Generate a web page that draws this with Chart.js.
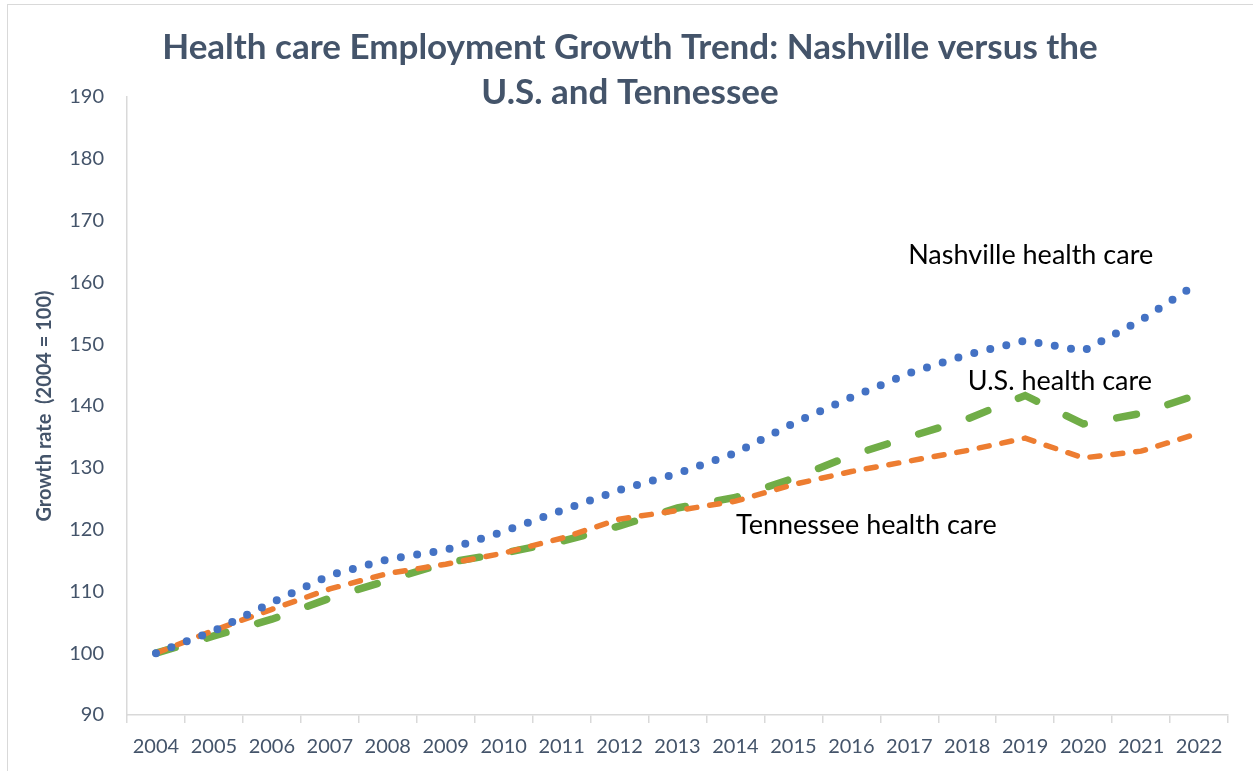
<!DOCTYPE html>
<html>
<head>
<meta charset="utf-8">
<script src="https://cdn.jsdelivr.net/npm/chart.js@4.4.0/dist/chart.umd.min.js"></script>
<style>
body{margin:0;background:#fff;}
#wrap{position:relative;width:1253px;height:771px;overflow:hidden;}
#frame{position:absolute;left:7px;top:4px;width:1300px;height:800px;border:1px solid #d9d9d9;pointer-events:none;}
</style>
</head>
<body>
<div id="wrap"><canvas id="chart" width="1253" height="771"></canvas><div id="frame"></div></div>
<script>
// data (2004 = 100)
var years=['2004','2005','2006','2007','2008','2009','2010','2011','2012','2013','2014','2015','2016','2017','2018','2019','2020','2021','2022'];
var nashville=[100,103.6,108.2,112.6,115.2,116.7,119.7,123.1,126.4,129.1,132.4,137.2,141.4,145.3,148.3,150.6,148.9,153.9,160];
var tennessee=[100,103.7,107.1,110.4,112.9,114.4,116.2,118.6,121.7,123.1,124.6,127.3,129.4,131.1,132.8,134.8,131.6,132.7,135.6];
var usa=[100,102.8,105.5,108.9,111.8,114.6,116.2,118.1,120.6,123.5,125.2,128.3,132,135,137.9,141.7,137.1,138.8,141.9];
var titleLines=['Health care Employment Growth Trend: Nashville versus the','U.S. and Tennessee'];
var yTitle='Growth rate  (2004 = 100)';

var slate='#44546a';
var axisGrey='#d9d9d9';

// line labels, placed in data units
var notes=[
  {text:'Nashville health care',x:12.98,y:164.4},
  {text:'U.S. health care',x:14.01,y:144.0},
  {text:'Tennessee health care',x:10.01,y:120.7}
];

var titlePlugin={
  id:'titleText',
  afterDraw:function(chart){
    var c=chart.ctx;
    c.save();
    c.font='bold 35px Lato';
    c.fillStyle=slate;
    c.textAlign='center';
    c.textBaseline='middle';
    titleLines.forEach(function(t,i){c.fillText(t,630,48+i*45);});
    c.restore();
  }
};

var notePlugin={
  id:'notes',
  afterDatasetsDraw:function(chart){
    var c=chart.ctx;
    var xs=chart.scales.x, ys=chart.scales.y;
    c.save();
    c.font='27px Lato';
    c.fillStyle='#000000';
    c.textAlign='left';
    c.textBaseline='middle';
    notes.forEach(function(n){
      c.fillText(n.text,xs.getPixelForValue(n.x),ys.getPixelForValue(n.y));
    });
    c.restore();
  }
};

var ctx=document.getElementById('chart').getContext('2d');
var chart=new Chart(ctx,{
  type:'line',
  data:{
    labels:years,
    datasets:[
      {label:'Nashville health care',data:nashville,borderColor:'#4472c4',borderWidth:8,borderCapStyle:'round',borderDash:[0,16.5],pointRadius:0,tension:0},
      {label:'Tennessee health care',data:tennessee,borderColor:'#ed7d31',borderWidth:5.5,borderCapStyle:'round',borderDash:[10,13],pointRadius:0,tension:0},
      {label:'U.S. health care',data:usa,borderColor:'#70ad47',borderWidth:7.5,borderCapStyle:'round',borderDash:[20,33],pointRadius:0,tension:0}
    ]
  },
  options:{
    responsive:false,
    animation:false,
    layout:{padding:{top:97,right:25,bottom:0,left:0}},
    plugins:{legend:{display:false},title:{display:false},tooltip:{enabled:false}},
    scales:{
      x:{
        offset:true,
        grid:{offset:true,drawOnChartArea:false,color:axisGrey,tickLength:8,lineWidth:1.5},
        border:{color:axisGrey,width:1.5},
        ticks:{color:slate,font:{family:'Lato',size:20},padding:12,maxRotation:0,autoSkip:false}
      },
      y:{
        min:90,max:190,
        afterFit:function(s){s.width=127;},
        grid:{drawOnChartArea:false,drawTicks:false,color:axisGrey},
        border:{color:axisGrey,width:1.5},
        ticks:{stepSize:10,color:slate,font:{family:'Lato',size:20},padding:23},
        title:{display:true,text:yTitle,color:slate,font:{family:'Lato',size:20,weight:'bold'},padding:{top:33,bottom:0}}
      }
    }
  },
  plugins:[titlePlugin,notePlugin]
});
</script>
</body>
</html>
